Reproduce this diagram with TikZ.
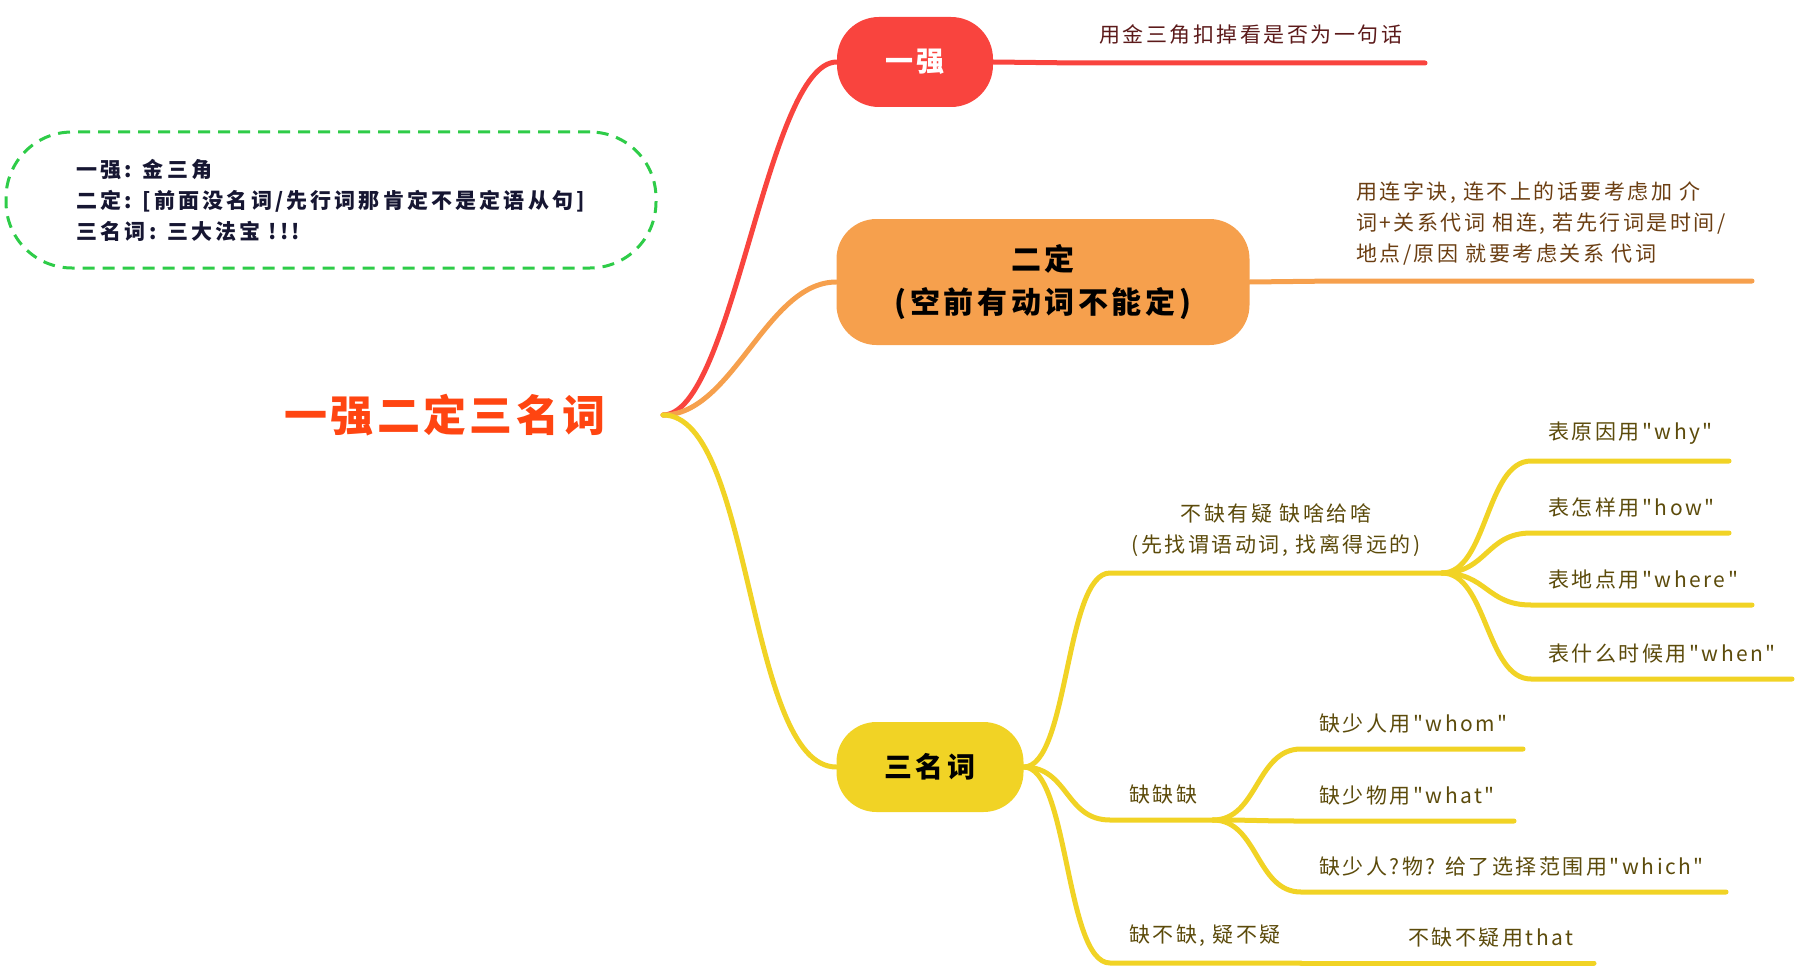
\documentclass[tikz,border=0pt]{standalone}
\usepackage{fontspec}
\setmainfont{Noto Sans CJK SC}
\newfontfamily\cjk{Noto Sans CJK SC}
\newfontfamily\cjkwide{Noto Sans CJK SC}[LetterSpace=12]
\newfontfamily\cjknote{Noto Sans CJK SC}[LetterSpace=15]
\newfontfamily\cjktitle{Noto Sans CJK SC}[LetterSpace=8]
\usetikzlibrary{positioning}
\definecolor{rootred}{RGB}{255,69,17}
\definecolor{qiangred}{RGB}{249,68,62}
\definecolor{dingorange}{RGB}{246,160,77}
\definecolor{mingyellow}{RGB}{241,211,37}
\definecolor{notegreen}{RGB}{46,204,72}
\definecolor{notenavy}{RGB}{22,22,50}
\definecolor{redtext}{RGB}{92,26,26}
\definecolor{orangetext}{RGB}{107,62,18}
\definecolor{yellowtext}{RGB}{92,75,11}

\tikzset{
  topic/.style={rounded corners=40pt, inner sep=0pt, align=center, font=\cjkwide\bfseries\fontsize{28}{43}\selectfont},
  leaf/.style={inner sep=0pt, align=left, font=\cjkwide\fontsize{21}{31}\selectfont},
  wire/.style={line width=5pt, line cap=round},
}

\begin{document}
\begin{tikzpicture}[x=1pt, y=-1pt]
        \useasboundingbox (0,0) rectangle (1798,979);

        % Note
        \node[draw=notegreen, dashed, dash pattern=on 12pt off 8pt, line width=3pt, rounded corners=66pt, minimum width=650pt, minimum height=136pt] (note) at (331,200) {};
        \node[right=72pt of note.west, inner sep=0pt, align=left, text=notenavy, font=\cjknote\bfseries\fontsize{21}{31}\selectfont] (notetext) {一强: 金三角\\二定: [前面没名词/先行词那肯定不是定语从句]\\三名词: 三大法宝 !!!};

        % Root and topics
        \node[text=rootred, font=\cjktitle\bfseries\fontsize{43}{50}\selectfont] (root) at (445,415) {一强二定三名词};
        \coordinate (hub) at (663,415);
        \node[topic, fill=qiangred, text=white, minimum width=156pt, minimum height=90pt, rounded corners=42pt] (qiang) at (915,62) {一强};
        \node[topic, fill=dingorange, minimum width=413pt, minimum height=126pt, font=\cjkwide\bfseries\fontsize{30}{43}\selectfont] (ding) at (1043,282) {二定\\(空前有动词不能定)};
        \node[topic, fill=mingyellow, minimum width=187pt, minimum height=90pt] (ming) at (930,767) {三名词};

        \draw[wire, qiangred] (hub) .. controls +(70,0) and +(-70,0) .. (qiang.west);
        \draw[wire, dingorange] (hub) .. controls +(70,0) and +(-70,0) .. (ding.west);
        \draw[wire, mingyellow] (hub) .. controls +(90,0) and +(-90,0) .. (ming.west);

        % Leaf of 一强
        \coordinate (q1s) at (1078,63); \coordinate (q1e) at (1425,63);
        \draw[wire, qiangred] (qiang.east) -- (q1s) -- (q1e);
        \node[leaf, text=redtext, above right=18pt and 21pt of q1s] (q1) {用金三角扣掉看是否为一句话};

        % Leaf of 二定
        \coordinate (d1s) at (1336,281); \coordinate (d1e) at (1752,281);
        \draw[wire, dingorange] (ding.east) -- (d1s) -- (d1e);
        \node[leaf, text=orangetext, above right=16pt and 20pt of d1s] (d1) {用连字诀, 连不上的话要考虑加 介\\词+关系代词 相连, 若先行词是时间/\\地点/原因 就要考虑关系 代词};

        % Branches of 三名词
        \coordinate (m1s) at (1110,573); \coordinate (m1e) at (1442,573);
        \coordinate (m2s) at (1110,820); \coordinate (m2e) at (1213,820);
        \coordinate (m3s) at (1110,963); \coordinate (m3e) at (1301,963);
        \foreach \m in {m1,m2,m3}
          \draw[wire, mingyellow] (ming.east) .. controls +(45,0) and +(-45,0) .. (\m s) -- (\m e);
        \path (m1s) -- (m1e) node[midway, above=16pt, leaf, align=center, text=yellowtext] (m1) {不缺有疑 缺啥给啥\\(先找谓语动词, 找离得远的)};
        \node[leaf, text=yellowtext, above right=16pt and 19pt of m2s] (m2) {缺缺缺};
        \node[leaf, text=yellowtext, above right=16pt and 19pt of m3s] (m3) {缺不缺, 疑不疑};

        % Leaves under 不缺有疑
        \coordinate (a1s) at (1531,461); \coordinate (a1e) at (1729,461);
        \coordinate (a2s) at (1531,533); \coordinate (a2e) at (1729,533);
        \coordinate (a3s) at (1531,605); \coordinate (a3e) at (1752,605);
        \coordinate (a4s) at (1531,679); \coordinate (a4e) at (1792,679);
        \foreach \a/\txt in {a1/表原因用"why", a2/表怎样用"how", a3/表地点用"where", a4/表什么时候用"when"} {
          \draw[wire, mingyellow] (m1e) .. controls +(45,0) and +(-45,0) .. (\a s) -- (\a e);
          \node[leaf, text=yellowtext, above right=16pt and 17pt of \a s] (\a) {\txt};
        }

        % Leaves under 缺缺缺
        \coordinate (b1s) at (1301,749); \coordinate (b1e) at (1523,749);
        \coordinate (b2s) at (1301,821); \coordinate (b2e) at (1514,821);
        \coordinate (b3s) at (1301,892); \coordinate (b3e) at (1726,892);
        \foreach \b/\txt in {b1/缺少人用"whom", b2/缺少物用"what", b3/缺少人?物? 给了选择范围用"which"} {
          \draw[wire, mingyellow] (m2e) .. controls +(45,0) and +(-45,0) .. (\b s) -- (\b e);
          \node[leaf, text=yellowtext, above right=16pt and 18pt of \b s] (\b) {\txt};
        }

        % Leaf under 缺不缺
        \coordinate (c1s) at (1301,963); \coordinate (c1e) at (1594,963);
        \draw[wire, mingyellow] (m3e) -- (c1s) -- (c1e);
        \node[leaf, text=yellowtext, above right=16pt and 107pt of c1s] (c1) {不缺不疑用that};
    \end{tikzpicture}
\end{document}
